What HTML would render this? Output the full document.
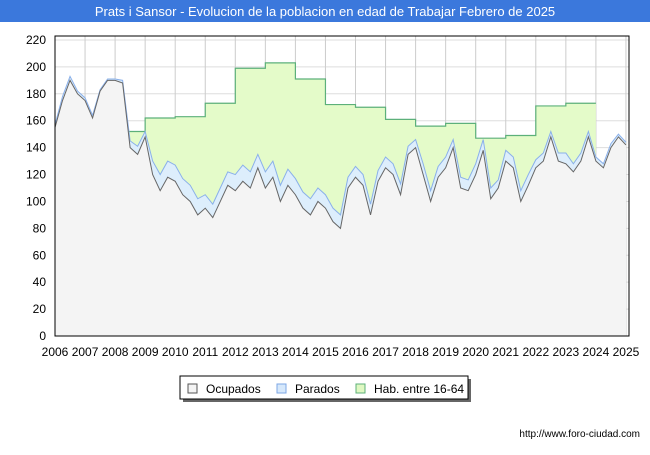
<!DOCTYPE html>
<html><head><meta charset="utf-8"><style>
body{margin:0;width:650px;height:450px;background:#fff;font-family:"Liberation Sans",sans-serif;overflow:hidden}
</style></head><body>
<svg width="650" height="450" xmlns="http://www.w3.org/2000/svg">
<rect x="0" y="0" width="650" height="22" fill="#3b78dc"/>
<text x="325" y="16" text-anchor="middle" fill="#fff" font-size="13">Prats i Sansor - Evolucion de la poblacion en edad de Trabajar Febrero de 2025</text>
<g id="grid"></g>
<g id="series"></g>
<rect x="55" y="36" width="574" height="300" fill="none" stroke="#000" stroke-width="1"/>
<g id="ticks" font-size="12" fill="#000"></g>
<g>
<rect x="183" y="379" width="288" height="23" fill="#666"/>
<rect x="180" y="376" width="288" height="23" fill="#fff" stroke="#000"/>
<rect x="188" y="384" width="9" height="9" fill="#f4f4f4" stroke="#555"/>
<text x="206" y="393" font-size="12">Ocupados</text>
<rect x="277" y="384" width="9" height="9" fill="#d6e8fb" stroke="#7ea7e6"/>
<text x="295" y="393" font-size="12">Parados</text>
<rect x="356" y="384" width="9" height="9" fill="#dff8c2" stroke="#5cb07a"/>
<text x="374" y="393" font-size="12">Hab. entre 16-64</text>
</g>
<text x="640" y="437" text-anchor="end" font-size="10" fill="#000">http://www.foro-ciudad.com</text>
</svg>
<script>
const years=[2006,2007,2008,2009,2010,2011,2012,2013,2014,2015,2016,2017,2018,2019,2020,2021,2022,2023,2024,2025];
const yTicks=[0,20,40,60,80,100,120,140,160,180,200,220];
const habYears=[2008,2009,2010,2011,2012,2013,2014,2015,2016,2017,2018,2019,2020,2021,2022,2023];
const habValues=[152,162,163,173,199,203,191,172,170,161,156,158,147,149,171,173];
const ocupados=[155,175,190,180,175,162,182,190,190,188,140,135,148,120,108,118,115,105,100,90,95,88,100,112,108,115,110,125,110,118,100,112,105,95,90,100,95,85,80,110,118,112,90,115,125,120,105,135,140,120,100,118,125,140,110,108,120,138,102,110,130,125,100,112,125,130,148,130,128,122,130,148,130,125,140,148,142];
const paradosGap=[2,3,3,2,2,2,1,1,1,2,5,6,4,10,12,12,12,12,12,12,10,10,10,10,12,12,12,10,12,12,12,12,12,12,12,10,10,10,10,8,8,8,8,8,8,8,8,6,6,8,8,8,8,6,8,8,8,8,8,6,8,8,8,8,6,6,4,6,8,6,6,4,3,3,3,2,2];
const NS="http://www.w3.org/2000/svg";
const X=t=>55+(t-2006)*30.05, Y=v=>336-v*1.3455;
function mk(tag,attrs,parent){const e=document.createElementNS(NS,tag);for(const k in attrs)e.setAttribute(k,attrs[k]);document.getElementById(parent).appendChild(e);return e;}
yTicks.forEach(v=>{
 const l=mk('line',{x1:55,x2:629,y1:Y(v),y2:Y(v),stroke:'#ddd'},'grid');
 
 
 const t=mk('text',{x:46,y:Y(v)+4,'text-anchor':'end'},'ticks');t.textContent=v;
 
 
});
years.forEach(yr=>{
 const l=mk('line',{x1:X(yr),x2:X(yr),y1:36,y2:336,stroke:'#ccc'},'grid');
 
 
 const t=mk('text',{x:X(yr),y:356,'text-anchor':'middle'},'ticks');t.textContent=yr;
 
 
});
// hab step
let hp='',hl='';
habYears.forEach((yr,i)=>{const y=Y(habValues[i]);hl+=(i?'L':'M')+X(yr)+' '+y+' L'+X(yr+1)+' '+y+' ';});
const x0=X(habYears[0]),x1=X(habYears[habYears.length-1]+1);
const hab=mk('path',{d:hl+'L'+x1+' 336 L'+x0+' 336 Z',fill:'#e4fbc9',stroke:'none'},'series');


const habL=mk('path',{d:hl,fill:'none',stroke:'#5cb07a','stroke-width':1.2},'series');


const tx=i=>X(2006+i/4);
let pl='',ol='';
ocupados.forEach((v,i)=>{pl+=(i?'L':'M')+tx(i)+' '+Y(v+paradosGap[i])+' ';ol+=(i?'L':'M')+tx(i)+' '+Y(v)+' ';});
const xe=tx(ocupados.length-1);
const pa=mk('path',{d:pl+'L'+xe+' 336 L55 336 Z',fill:'#ddeefc'},'series');


const pline=mk('path',{d:pl,fill:'none',stroke:'#8ab0ea','stroke-width':1},'series');


const oa=mk('path',{d:ol+'L'+xe+' 336 L55 336 Z',fill:'#f4f4f4'},'series');


const oline=mk('path',{d:ol,fill:'none',stroke:'#666','stroke-width':1},'series');


</script>
</body></html>
